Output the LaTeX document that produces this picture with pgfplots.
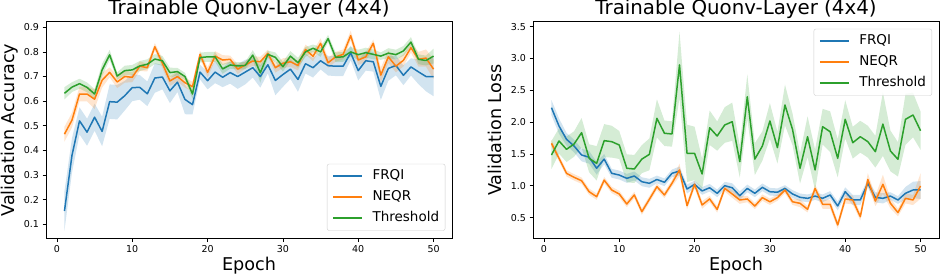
\documentclass[border=0pt]{standalone}
\usepackage{fontspec}
\setmainfont{DejaVu Sans}
\usepackage{pgfplots}
\pgfplotsset{compat=1.18}
\usepackage{pgfplotstable}
\usepgfplotslibrary{fillbetween}
\definecolor{c1}{HTML}{1F77B4}
\definecolor{c2}{HTML}{FF7F0E}
\definecolor{c3}{HTML}{2CA02C}

% ---------- Validation accuracy ----------
\pgfplotstableread{
e m h
1 0.154 0.08
2 0.380 0.07
3 0.520 0.055
4 0.474 0.055
5 0.535 0.055
6 0.477 0.06
7 0.598 0.07
8 0.596 0.07
9 0.622 0.06
10 0.655 0.055
11 0.656 0.05
12 0.630 0.05
13 0.694 0.06
14 0.698 0.05
15 0.642 0.05
16 0.677 0.04
17 0.607 0.06
18 0.586 0.04
19 0.718 0.03
20 0.683 0.035
21 0.718 0.045
22 0.697 0.04
23 0.716 0.045
24 0.700 0.05
25 0.718 0.05
26 0.736 0.04
27 0.700 0.045
28 0.748 0.035
29 0.684 0.06
30 0.708 0.05
31 0.730 0.04
32 0.688 0.05
33 0.752 0.04
34 0.736 0.04
35 0.764 0.035
36 0.744 0.04
37 0.742 0.04
38 0.742 0.04
39 0.796 0.03
40 0.724 0.04
41 0.764 0.04
42 0.760 0.04
43 0.660 0.055
44 0.733 0.05
45 0.745 0.04
46 0.705 0.04
47 0.739 0.035
48 0.719 0.05
49 0.700 0.06
50 0.700 0.08
}\accA
\pgfplotstableread{
e m h
1 0.466 0.03
2 0.523 0.03
3 0.629 0.03
4 0.629 0.03
5 0.608 0.04
6 0.685 0.03
7 0.717 0.02
8 0.678 0.025
9 0.700 0.025
10 0.697 0.02
11 0.742 0.02
12 0.736 0.015
13 0.821 0.015
14 0.754 0.02
15 0.682 0.02
16 0.700 0.02
17 0.675 0.02
18 0.659 0.02
19 0.790 0.015
20 0.717 0.02
21 0.783 0.02
22 0.767 0.02
23 0.770 0.015
24 0.730 0.02
25 0.747 0.015
26 0.763 0.02
27 0.760 0.02
28 0.794 0.015
29 0.736 0.02
30 0.754 0.02
31 0.760 0.02
32 0.745 0.02
33 0.810 0.02
34 0.782 0.02
35 0.835 0.02
36 0.756 0.02
37 0.780 0.02
38 0.790 0.02
39 0.866 0.02
40 0.767 0.02
41 0.780 0.02
42 0.835 0.015
43 0.706 0.03
44 0.780 0.025
45 0.742 0.025
46 0.766 0.025
47 0.817 0.02
48 0.770 0.03
49 0.775 0.035
50 0.730 0.04
}\accB
\pgfplotstableread{
e m h
1 0.632 0.025
2 0.657 0.02
3 0.671 0.02
4 0.656 0.02
5 0.629 0.02
6 0.727 0.025
7 0.788 0.02
8 0.702 0.015
9 0.724 0.02
10 0.727 0.02
11 0.743 0.02
12 0.750 0.02
13 0.771 0.02
14 0.764 0.02
15 0.716 0.02
16 0.720 0.015
17 0.700 0.015
18 0.629 0.02
19 0.777 0.02
20 0.780 0.02
21 0.780 0.02
22 0.731 0.02
23 0.747 0.015
24 0.743 0.015
25 0.745 0.015
26 0.787 0.02
27 0.715 0.04
28 0.790 0.015
29 0.778 0.02
30 0.740 0.02
31 0.783 0.02
32 0.756 0.02
33 0.800 0.02
34 0.815 0.015
35 0.800 0.02
36 0.854 0.015
37 0.778 0.02
38 0.780 0.02
39 0.800 0.02
40 0.789 0.02
41 0.797 0.02
42 0.790 0.02
43 0.783 0.015
44 0.795 0.02
45 0.789 0.02
46 0.804 0.02
47 0.840 0.02
48 0.770 0.02
49 0.765 0.02
50 0.783 0.03
}\accC

% ---------- Validation loss ----------
\pgfplotstableread{
e m h
1 2.228 0.12
2 1.940 0.12
3 1.731 0.1
4 1.626 0.1
5 1.485 0.1
6 1.449 0.1
7 1.276 0.1
8 1.420 0.08
9 1.197 0.07
10 1.170 0.07
11 1.118 0.07
12 1.155 0.07
13 1.065 0.07
14 1.040 0.07
15 1.100 0.06
16 1.056 0.06
17 1.197 0.06
18 1.233 0.07
19 0.950 0.07
20 1.024 0.06
21 0.920 0.06
22 0.970 0.06
23 0.883 0.06
24 1.003 0.06
25 0.970 0.07
26 0.845 0.07
27 0.960 0.06
28 0.883 0.06
29 0.977 0.06
30 0.908 0.06
31 0.900 0.06
32 0.960 0.05
33 0.873 0.06
34 0.820 0.06
35 0.804 0.06
36 0.840 0.06
37 0.804 0.06
38 0.857 0.06
39 0.684 0.07
40 0.908 0.07
41 0.778 0.08
42 0.778 0.08
43 1.040 0.06
44 0.820 0.08
45 0.804 0.08
46 0.840 0.06
47 0.778 0.06
48 0.883 0.1
49 0.935 0.13
50 0.935 0.14
}\lossA
\pgfplotstableread{
e m h
1 1.668 0.05
2 1.433 0.05
3 1.197 0.05
4 1.134 0.05
5 1.081 0.05
6 0.908 0.05
7 0.830 0.05
8 1.090 0.05
9 0.935 0.05
10 0.872 0.05
11 0.715 0.05
12 0.857 0.05
13 0.594 0.05
14 0.789 0.05
15 0.987 0.05
16 0.857 0.05
17 1.040 0.05
18 1.250 0.1
19 0.689 0.06
20 1.024 0.06
21 0.700 0.06
22 0.794 0.05
23 0.630 0.05
24 0.960 0.05
25 0.872 0.06
26 0.778 0.06
27 0.794 0.05
28 0.683 0.05
29 0.815 0.05
30 0.750 0.05
31 0.815 0.05
32 0.935 0.05
33 0.750 0.05
34 0.726 0.06
35 0.632 0.05
36 0.960 0.06
37 0.710 0.07
38 0.710 0.07
39 0.386 0.06
40 0.794 0.07
41 0.778 0.07
42 0.516 0.06
43 1.100 0.1
44 0.762 0.08
45 1.024 0.15
46 0.726 0.08
47 0.580 0.06
48 0.804 0.08
49 0.778 0.08
50 0.998 0.2
}\lossB
\pgfplotstableread{
e m h
1 1.485 0.22
2 1.705 0.2
3 1.574 0.2
4 1.657 0.2
5 1.835 0.23
6 1.433 0.22
7 1.354 0.27
8 1.710 0.26
9 1.694 0.25
10 1.642 0.22
11 1.276 0.22
12 1.265 0.22
13 1.420 0.22
14 1.495 0.25
15 2.060 0.3
16 1.826 0.2
17 1.815 0.2
18 2.900 0.52
19 1.510 0.45
20 1.510 0.42
21 1.186 0.24
22 1.913 0.27
23 1.783 0.23
24 1.956 0.28
25 2.008 0.3
26 1.380 0.25
27 2.400 0.35
28 1.420 0.25
29 1.626 0.23
30 2.019 0.28
31 1.600 0.25
32 2.270 0.32
33 1.888 0.25
34 1.276 0.24
35 1.772 0.32
36 1.250 0.32
37 1.930 0.28
38 1.850 0.32
39 1.433 0.3
40 2.045 0.3
41 1.678 0.25
42 1.772 0.25
43 1.694 0.25
44 1.537 0.25
45 1.970 0.5
46 1.548 0.32
47 1.417 0.27
48 2.045 0.4
49 2.113 0.35
50 1.866 0.3
}\lossC

\pgfplotsset{
  myaxis/.style={
    scale only axis, width=406pt, height=217pt,
    xmin=-1.45, xmax=52.45,
    xtick={0,10,20,30,40,50},
    tick align=outside, tick pos=left,
    major tick length=3.5pt,
    every tick/.style={black, line width=0.8pt},
    axis line style={line width=0.8pt},
    ticklabel style={font=\fontsize{9.5}{11}\selectfont},
    /pgf/number format/assume math mode=true,
    yticklabel style={/pgf/number format/.cd, fixed, fixed zerofill, precision=1},
    every axis title shift=0pt,
    title style={at={(axis description cs:0.5,1.031)}, anchor=base, yshift=0pt, font=\fontsize{19.8}{22}\selectfont},
    xlabel style={at={(axis description cs:0.5,-0.146)}, anchor=base, font=\fontsize{17.6}{20}\selectfont},
    ylabel style={at={(axis description cs:-0.0788,0.5)}, anchor=base, font=\fontsize{17.6}{20}\selectfont},
    legend cell align=left,
    legend image code/.code={\draw[##1, line width=2pt] (0pt,0pt) -- (28.7pt,0pt);},
    legend style={draw=black!20, rounded corners=2pt, fill=white, fill opacity=0.8, text opacity=1,
      font=\fontsize{13.5}{16}\selectfont, inner xsep=5pt, inner ysep=4.5pt, row sep=5.5pt, column sep=8.7pt,
      nodes={inner sep=1pt, text height=10.3pt, text depth=3.2pt}},
  },
  ser/.style={line width=1.5pt, line join=round},
  band/.style={fill=#1, fill opacity=0.2, draw=none, forget plot},
  hid/.style={draw=none, forget plot},
}

\begin{document}
\begin{tikzpicture}
\begin{axis}[myaxis, at={(46pt,35.3pt)}, anchor=south west,
  ymin=0.0415, ymax=0.9227,
  ytick={0.1,0.2,0.3,0.4,0.5,0.6,0.7,0.8,0.9},
  title={Trainable Quonv-Layer (4x4)},
  xlabel={Epoch}, ylabel={Validation Accuracy},
  legend style={at={(axis description cs:0.9835,0.0369)}, anchor=south east}]
  \addplot[hid, name path=aU] table[x=e, y expr=\thisrow{m}+\thisrow{h}] {\accA};
  \addplot[hid, name path=aL] table[x=e, y expr=\thisrow{m}-\thisrow{h}] {\accA};
  \addplot[band=c1] fill between[of=aU and aL];
  \addplot[hid, name path=bU] table[x=e, y expr=\thisrow{m}+\thisrow{h}] {\accB};
  \addplot[hid, name path=bL] table[x=e, y expr=\thisrow{m}-\thisrow{h}] {\accB};
  \addplot[band=c2] fill between[of=bU and bL];
  \addplot[hid, name path=cU] table[x=e, y expr=\thisrow{m}+\thisrow{h}] {\accC};
  \addplot[hid, name path=cL] table[x=e, y expr=\thisrow{m}-\thisrow{h}] {\accC};
  \addplot[band=c3] fill between[of=cU and cL];
  \addplot[c1, ser] table[x=e, y=m] {\accA};
  \addplot[c2, ser] table[x=e, y=m] {\accB};
  \addplot[c3, ser] table[x=e, y=m] {\accC};
  \legend{FRQI,NEQR,Threshold}
\end{axis}
\begin{axis}[myaxis, at={(533pt,35.3pt)}, anchor=south west,
  ymin=0.170, ymax=3.5785,
  ytick={0.5,1,1.5,2,2.5,3,3.5},
  title={Trainable Quonv-Layer (4x4)},
  xlabel={Epoch}, ylabel={Validation Loss},
  legend style={at={(axis description cs:0.9828,0.9673)}, anchor=north east}]
  \addplot[hid, name path=dU] table[x=e, y expr=\thisrow{m}+\thisrow{h}] {\lossA};
  \addplot[hid, name path=dL] table[x=e, y expr=\thisrow{m}-\thisrow{h}] {\lossA};
  \addplot[band=c1] fill between[of=dU and dL];
  \addplot[hid, name path=eU] table[x=e, y expr=\thisrow{m}+\thisrow{h}] {\lossB};
  \addplot[hid, name path=eL] table[x=e, y expr=\thisrow{m}-\thisrow{h}] {\lossB};
  \addplot[band=c2] fill between[of=eU and eL];
  \addplot[hid, name path=fU] table[x=e, y expr=\thisrow{m}+\thisrow{h}] {\lossC};
  \addplot[hid, name path=fL] table[x=e, y expr=\thisrow{m}-\thisrow{h}] {\lossC};
  \addplot[band=c3] fill between[of=fU and fL];
  \addplot[c1, ser] table[x=e, y=m] {\lossA};
  \addplot[c2, ser] table[x=e, y=m] {\lossB};
  \addplot[c3, ser] table[x=e, y=m] {\lossC};
  \legend{FRQI,NEQR,Threshold}
\end{axis}
\pgfresetboundingbox
\path[use as bounding box] (0,0) rectangle (940pt,274pt);
\end{tikzpicture}
\end{document}
